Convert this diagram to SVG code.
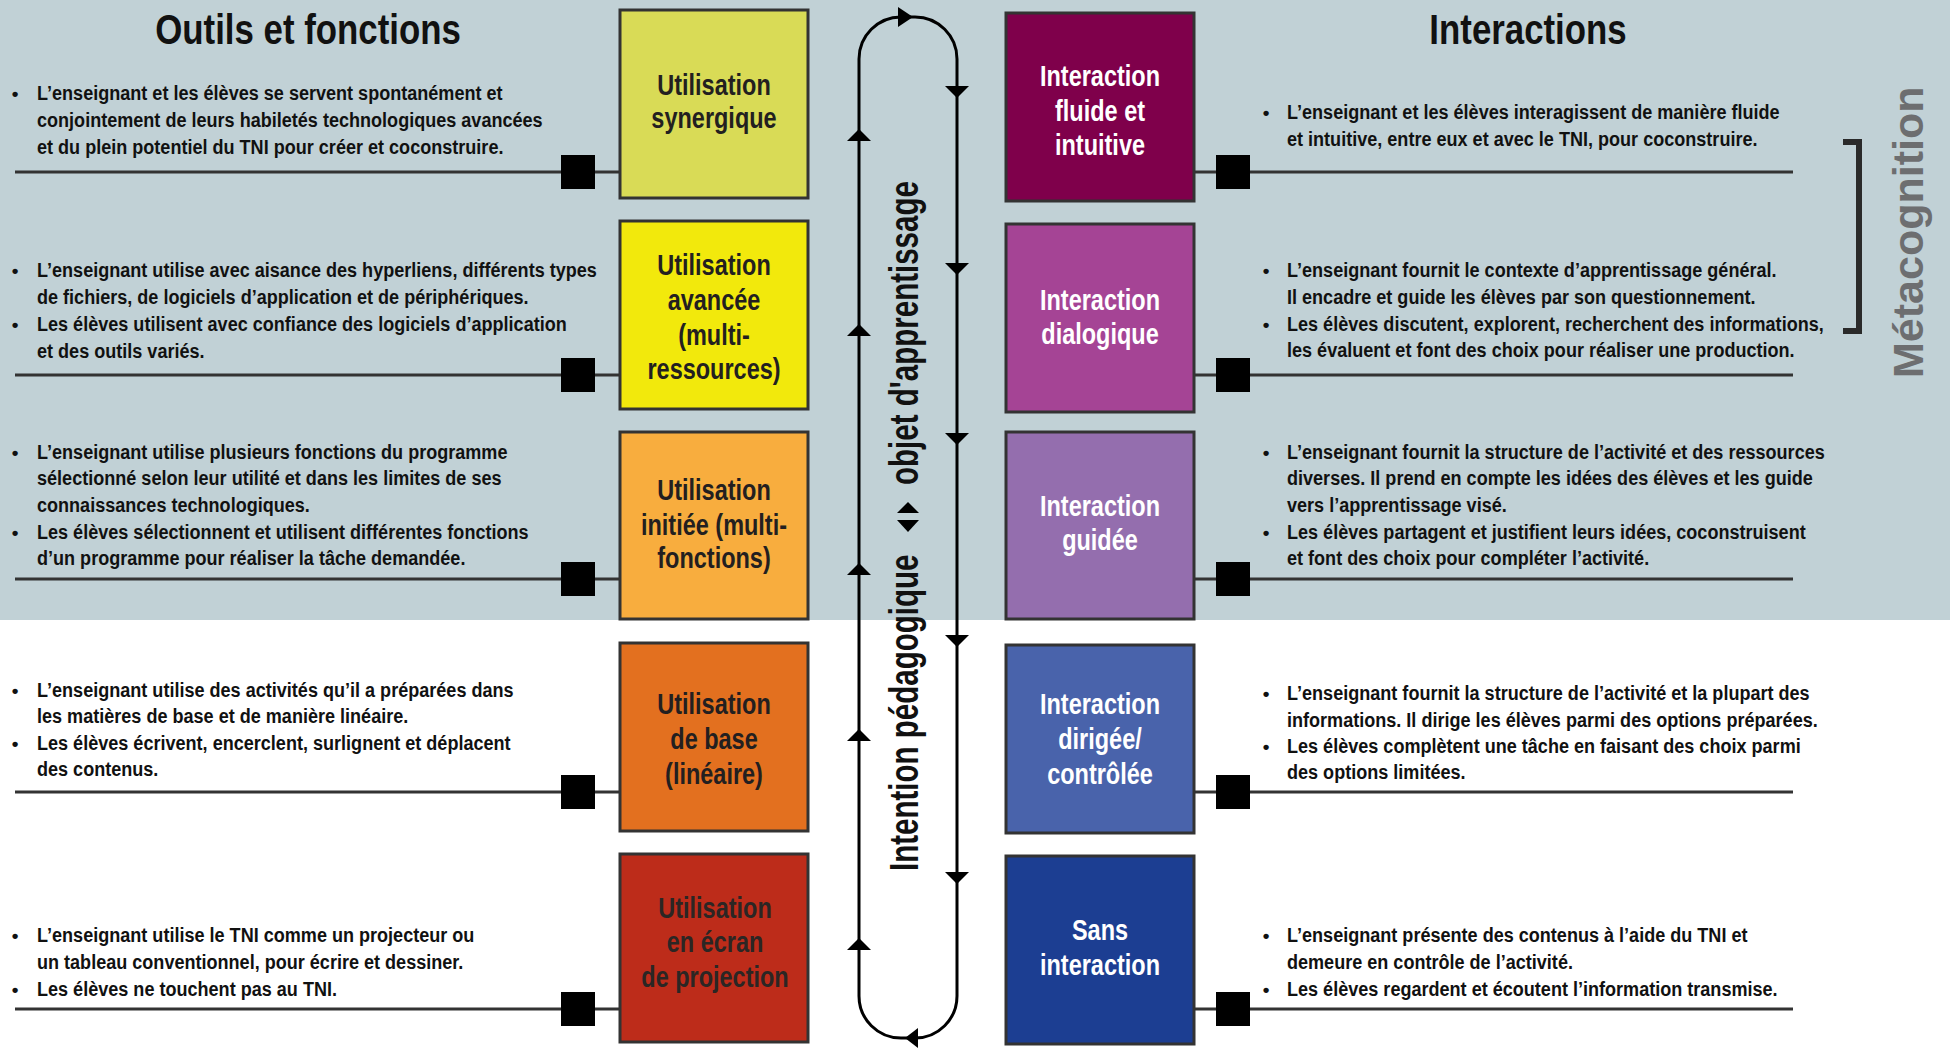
<svg xmlns="http://www.w3.org/2000/svg" width="1950" height="1048" viewBox="0 0 1950 1048">
<style>
  text { font-family: "Liberation Sans", Arial, sans-serif; font-weight: bold; }
  .title { font-size: 43px; fill: #111; }
  .body { font-size: 21px; fill: #111; }
  .bul { font-size: 19px; fill: #111; text-anchor: middle; }
  .lbl { font-size: 29px; text-anchor: middle; }
  .dark { fill: #231f20; }
  .light { fill: #ffffff; }
  .box { stroke: #333333; stroke-width: 3; }
  .ln { stroke: #333333; stroke-width: 3; fill: none; }
  .sq { fill: #000000; }
  .loop { stroke: #000000; stroke-width: 3; fill: none; }
  .ah { fill: #000000; }
  .vt { font-size: 41px; fill: #111; }
  .meta { font-size: 43px; fill: #6d6e70; }
</style>

<rect x="0" y="0" width="1950" height="1048" fill="#ffffff"/>
<rect x="0" y="0" width="1950" height="620" fill="#c1d1d6"/>

<!-- Titles -->
<text class="title" transform="translate(308,44) scale(0.81,1)" text-anchor="middle">Outils et fonctions</text>
<text class="title" transform="translate(1528,44) scale(0.81,1)" text-anchor="middle">Interactions</text>

<!-- Connectors -->
<g id="connectors">
  <line class="ln" x1="15" y1="172" x2="620" y2="172"/>
  <line class="ln" x1="15" y1="375" x2="620" y2="375"/>
  <line class="ln" x1="15" y1="579" x2="620" y2="579"/>
  <line class="ln" x1="15" y1="792" x2="620" y2="792"/>
  <line class="ln" x1="15" y1="1009" x2="620" y2="1009"/>
  <line class="ln" x1="1195" y1="172" x2="1793" y2="172"/>
  <line class="ln" x1="1195" y1="375" x2="1793" y2="375"/>
  <line class="ln" x1="1195" y1="579" x2="1793" y2="579"/>
  <line class="ln" x1="1195" y1="792" x2="1793" y2="792"/>
  <line class="ln" x1="1195" y1="1009" x2="1793" y2="1009"/>

  <rect class="sq" x="561" y="155" width="34" height="34"/>
  <rect class="sq" x="561" y="358" width="34" height="34"/>
  <rect class="sq" x="561" y="562" width="34" height="34"/>
  <rect class="sq" x="561" y="775" width="34" height="34"/>
  <rect class="sq" x="561" y="992" width="34" height="34"/>
  <rect class="sq" x="1216" y="155" width="34" height="34"/>
  <rect class="sq" x="1216" y="358" width="34" height="34"/>
  <rect class="sq" x="1216" y="562" width="34" height="34"/>
  <rect class="sq" x="1216" y="775" width="34" height="34"/>
  <rect class="sq" x="1216" y="992" width="34" height="34"/>

  <path class="loop" d="M859,996 V59 A42,42 0 0 1 901,17 H915 A42,42 0 0 1 957,59 V996 A42,42 0 0 1 915,1038 H901 A42,42 0 0 1 859,996 Z"/>
  <!-- top arrow (right) -->
  <polygon class="ah" points="913,17 898,7 898,27"/>
  <!-- bottom arrow (left) -->
  <polygon class="ah" points="905,1038 918,1028 918,1048"/>
  <!-- down arrows on right line -->
  <polygon class="ah" points="945,86 969,86 957,98"/>
  <polygon class="ah" points="945,263 969,263 957,275"/>
  <polygon class="ah" points="945,433 969,433 957,445"/>
  <polygon class="ah" points="945,635 969,635 957,647"/>
  <polygon class="ah" points="945,872 969,872 957,884"/>
  <!-- up arrows on left line -->
  <polygon class="ah" points="859,129 847,141 871,141"/>
  <polygon class="ah" points="859,324 847,336 871,336"/>
  <polygon class="ah" points="859,563 847,575 871,575"/>
  <polygon class="ah" points="859,729 847,741 871,741"/>
  <polygon class="ah" points="859,938 847,950 871,950"/>
</g>

<!-- Vertical label -->
<g id="intention">
  <text class="vt" transform="translate(918,871) rotate(-90) scale(0.72,1)">Intention pédagogique</text>
  <polygon class="ah" points="908,502 897,513 919,513"/>
  <polygon class="ah" points="897,520 919,520 908,532"/>
  <text class="vt" transform="translate(918,485) rotate(-90) scale(0.72,1)">objet d'apprentissage</text>
</g>

<!-- Métacognition -->
<g id="metacognition">
  <path d="M1843,142 H1859 V331 H1843" fill="none" stroke="#2a2a2a" stroke-width="6"/>
  <text class="meta" transform="translate(1923,378) rotate(-90)">Métacognition</text>
</g>

<!-- Left nodes -->
<g id="util-synergique">
  <rect class="box" x="620" y="10" width="188" height="188" fill="#d9db56"/>
  <text class="lbl dark" transform="translate(714,0) scale(0.81,1)"><tspan x="0" y="95">Utilisation</tspan><tspan x="0" y="128">synergique</tspan></text>
</g>
<g id="util-avancee">
  <rect class="box" x="620" y="221" width="188" height="188" fill="#f2e90c"/>
  <text class="lbl dark" transform="translate(714,0) scale(0.81,1)"><tspan x="0" y="275">Utilisation</tspan><tspan x="0" y="310">avancée</tspan><tspan x="0" y="345">(multi-</tspan><tspan x="0" y="379">ressources)</tspan></text>
</g>
<g id="util-initiee">
  <rect class="box" x="620" y="432" width="188" height="187" fill="#f8ad3e"/>
  <text class="lbl dark" transform="translate(714,0) scale(0.81,1)"><tspan x="0" y="500">Utilisation</tspan><tspan x="0" y="535">initiée (multi-</tspan><tspan x="0" y="568">fonctions)</tspan></text>
</g>
<g id="util-base">
  <rect class="box" x="620" y="643" width="188" height="188" fill="#e3701f"/>
  <text class="lbl dark" transform="translate(714,0) scale(0.81,1)"><tspan x="0" y="714">Utilisation</tspan><tspan x="0" y="749">de base</tspan><tspan x="0" y="784">(linéaire)</tspan></text>
</g>
<g id="util-projection">
  <rect class="box" x="620" y="854" width="188" height="188" fill="#bd2c1a"/>
  <text class="lbl" fill="#2b2624" transform="translate(715,0) scale(0.81,1)"><tspan x="0" y="918">Utilisation</tspan><tspan x="0" y="952">en écran</tspan><tspan x="0" y="987">de projection</tspan></text>
</g>

<!-- Right nodes -->
<g id="inter-fluide">
  <rect class="box" x="1006" y="13" width="188" height="188" fill="#7f004b"/>
  <text class="lbl light" transform="translate(1100,0) scale(0.81,1)"><tspan x="0" y="86">Interaction</tspan><tspan x="0" y="121">fluide et</tspan><tspan x="0" y="155">intuitive</tspan></text>
</g>
<g id="inter-dialogique">
  <rect class="box" x="1006" y="224" width="188" height="188" fill="#a54495"/>
  <text class="lbl light" transform="translate(1100,0) scale(0.81,1)"><tspan x="0" y="310">Interaction</tspan><tspan x="0" y="344">dialogique</tspan></text>
</g>
<g id="inter-guidee">
  <rect class="box" x="1006" y="432" width="188" height="187" fill="#946eae"/>
  <text class="lbl light" transform="translate(1100,0) scale(0.81,1)"><tspan x="0" y="516">Interaction</tspan><tspan x="0" y="550">guidée</tspan></text>
</g>
<g id="inter-dirigee">
  <rect class="box" x="1006" y="645" width="188" height="188" fill="#4963ab"/>
  <text class="lbl light" transform="translate(1100,0) scale(0.81,1)"><tspan x="0" y="714">Interaction</tspan><tspan x="0" y="749">dirigée/</tspan><tspan x="0" y="784">contrôlée</tspan></text>
</g>
<g id="sans-interaction">
  <rect class="box" x="1006" y="856" width="188" height="188" fill="#1c3e92"/>
  <text class="lbl light" transform="translate(1100,0) scale(0.81,1)"><tspan x="0" y="940">Sans</tspan><tspan x="0" y="975">interaction</tspan></text>
</g>

<!-- Left descriptions -->
<g id="desc-left-1">
  <text class="bul" x="15" y="100">•</text>
  <text class="body" transform="translate(37,0) scale(0.86,1)"><tspan x="0" y="100">L’enseignant et les élèves se servent spontanément et</tspan><tspan x="0" y="127">conjointement de leurs habiletés technologiques avancées</tspan><tspan x="0" y="154">et du plein potentiel du TNI pour créer et coconstruire.</tspan></text>
</g>
<g id="desc-left-2">
  <text class="bul" x="15" y="277">•</text>
  <text class="bul" x="15" y="331">•</text>
  <text class="body" transform="translate(37,0) scale(0.86,1)"><tspan x="0" y="277">L’enseignant utilise avec aisance des hyperliens, différents types</tspan><tspan x="0" y="304">de fichiers, de logiciels d’application et de périphériques.</tspan><tspan x="0" y="331">Les élèves utilisent avec confiance des logiciels d’application</tspan><tspan x="0" y="358">et des outils variés.</tspan></text>
</g>
<g id="desc-left-3">
  <text class="bul" x="15" y="459">•</text>
  <text class="bul" x="15" y="539">•</text>
  <text class="body" transform="translate(37,0) scale(0.86,1)"><tspan x="0" y="459">L’enseignant utilise plusieurs fonctions du programme</tspan><tspan x="0" y="485">sélectionné selon leur utilité et dans les limites de ses</tspan><tspan x="0" y="512">connaissances technologiques.</tspan><tspan x="0" y="539">Les élèves sélectionnent et utilisent différentes fonctions</tspan><tspan x="0" y="565">d’un programme pour réaliser la tâche demandée.</tspan></text>
</g>
<g id="desc-left-4">
  <text class="bul" x="15" y="697">•</text>
  <text class="bul" x="15" y="750">•</text>
  <text class="body" transform="translate(37,0) scale(0.86,1)"><tspan x="0" y="697">L’enseignant utilise des activités qu’il a préparées dans</tspan><tspan x="0" y="723">les matières de base et de manière linéaire.</tspan><tspan x="0" y="750">Les élèves écrivent, encerclent, surlignent et déplacent</tspan><tspan x="0" y="776">des contenus.</tspan></text>
</g>
<g id="desc-left-5">
  <text class="bul" x="15" y="942">•</text>
  <text class="bul" x="15" y="996">•</text>
  <text class="body" transform="translate(37,0) scale(0.86,1)"><tspan x="0" y="942">L’enseignant utilise le TNI comme un projecteur ou</tspan><tspan x="0" y="969">un tableau conventionnel, pour écrire et dessiner.</tspan><tspan x="0" y="996">Les élèves ne touchent pas au TNI.</tspan></text>
</g>

<!-- Right descriptions -->
<g id="desc-right-1">
  <text class="bul" x="1266" y="119">•</text>
  <text class="body" transform="translate(1287,0) scale(0.86,1)"><tspan x="0" y="119">L’enseignant et les élèves interagissent de manière fluide</tspan><tspan x="0" y="146">et intuitive, entre eux et avec le TNI, pour coconstruire.</tspan></text>
</g>
<g id="desc-right-2">
  <text class="bul" x="1266" y="277">•</text>
  <text class="bul" x="1266" y="331">•</text>
  <text class="body" transform="translate(1287,0) scale(0.86,1)"><tspan x="0" y="277">L’enseignant fournit le contexte d’apprentissage général.</tspan><tspan x="0" y="304">Il encadre et guide les élèves par son questionnement.</tspan><tspan x="0" y="331">Les élèves discutent, explorent, recherchent des informations,</tspan><tspan x="0" y="357">les évaluent et font des choix pour réaliser une production.</tspan></text>
</g>
<g id="desc-right-3">
  <text class="bul" x="1266" y="459">•</text>
  <text class="bul" x="1266" y="539">•</text>
  <text class="body" transform="translate(1287,0) scale(0.86,1)"><tspan x="0" y="459">L’enseignant fournit la structure de l’activité et des ressources</tspan><tspan x="0" y="485">diverses. Il prend en compte les idées des élèves et les guide</tspan><tspan x="0" y="512">vers l’apprentissage visé.</tspan><tspan x="0" y="539">Les élèves partagent et justifient leurs idées, coconstruisent</tspan><tspan x="0" y="565">et font des choix pour compléter l’activité.</tspan></text>
</g>
<g id="desc-right-4">
  <text class="bul" x="1266" y="700">•</text>
  <text class="bul" x="1266" y="753">•</text>
  <text class="body" transform="translate(1287,0) scale(0.86,1)"><tspan x="0" y="700">L’enseignant fournit la structure de l’activité et la plupart des</tspan><tspan x="0" y="727">informations. Il dirige les élèves parmi des options préparées.</tspan><tspan x="0" y="753">Les élèves complètent une tâche en faisant des choix parmi</tspan><tspan x="0" y="779">des options limitées.</tspan></text>
</g>
<g id="desc-right-5">
  <text class="bul" x="1266" y="942">•</text>
  <text class="bul" x="1266" y="996">•</text>
  <text class="body" transform="translate(1287,0) scale(0.86,1)"><tspan x="0" y="942">L’enseignant présente des contenus à l’aide du TNI et</tspan><tspan x="0" y="969">demeure en contrôle de l’activité.</tspan><tspan x="0" y="996">Les élèves regardent et écoutent l’information transmise.</tspan></text>
</g>
</svg>
